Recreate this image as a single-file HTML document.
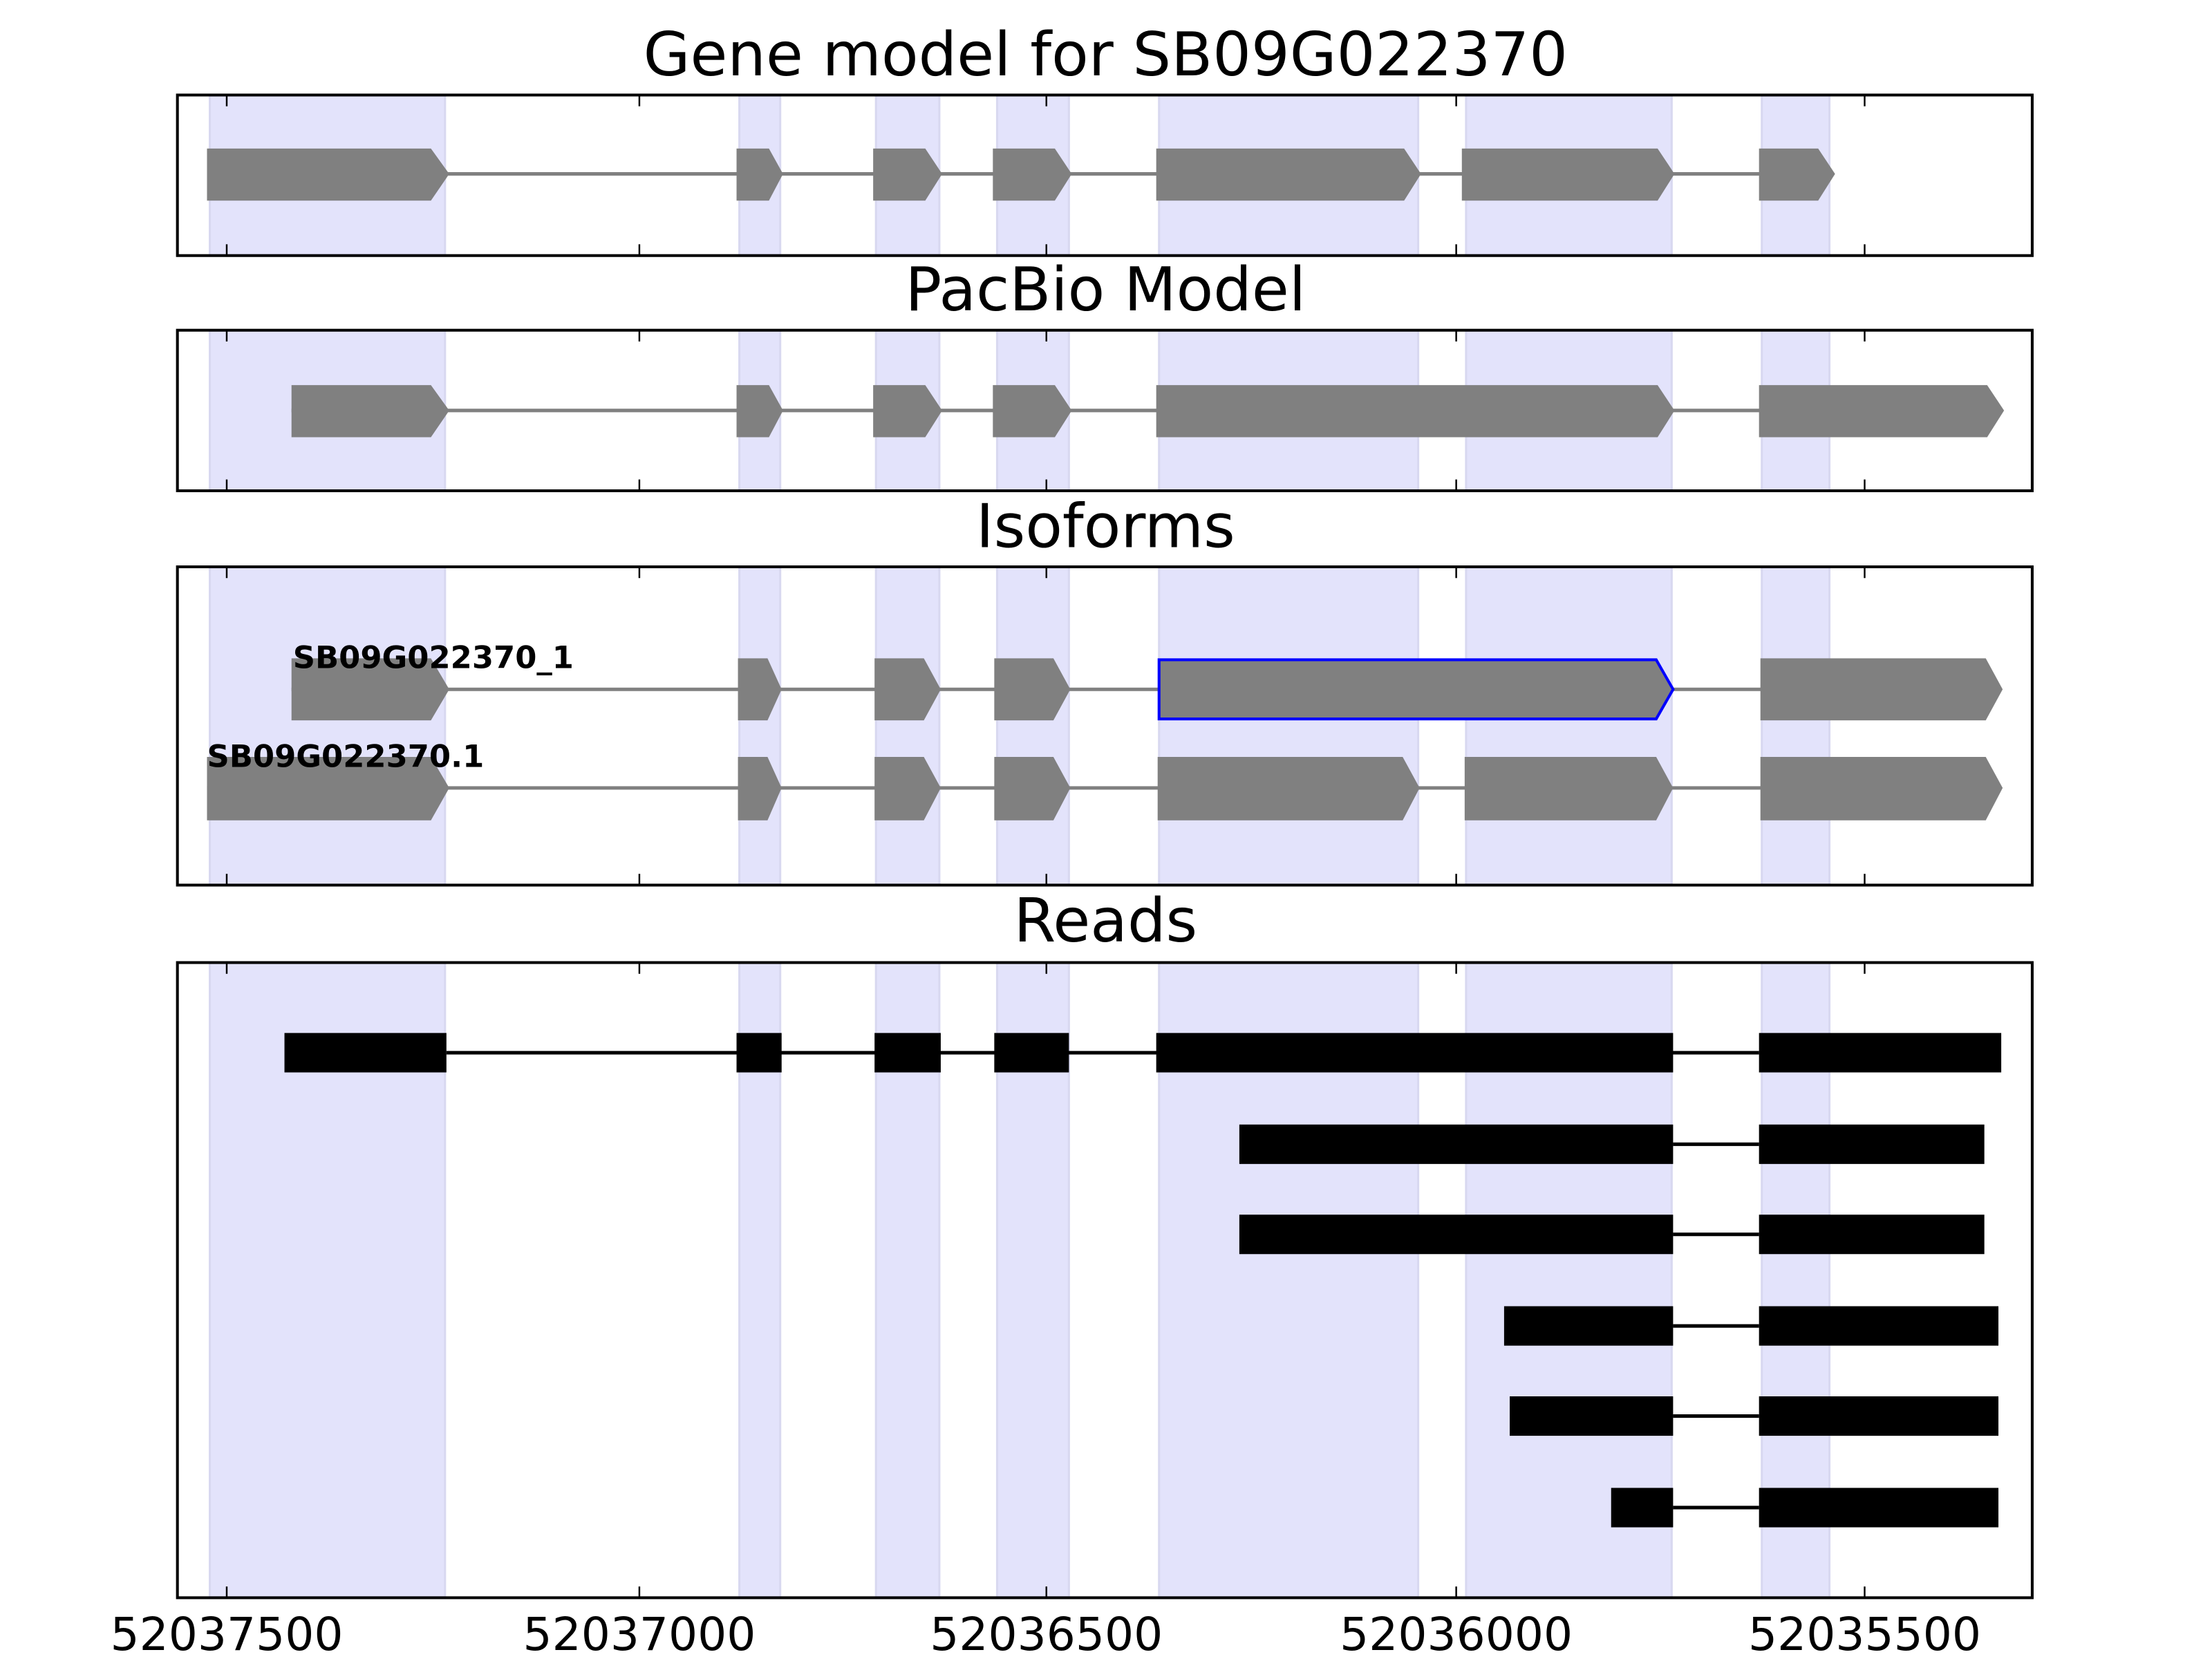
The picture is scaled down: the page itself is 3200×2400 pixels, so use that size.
<!DOCTYPE html>
<html><head><meta charset="utf-8"><style>html,body{margin:0;padding:0;background:#fff}svg{display:block}</style></head>
<body>
<svg xmlns="http://www.w3.org/2000/svg" width="3200" height="2400" viewBox="0 0 3200 2400" font-family="DejaVu Sans, Liberation Sans, sans-serif">
<g transform="matrix(2.0374,0,0,2.0374,2,3)">
<g font-size="43" text-anchor="middle" fill="#000">
<text x="784" y="52">Gene model for SB09G022370</text>
<text x="784" y="219">PacBio Model</text>
<text x="784" y="387">Isoforms</text>
<text x="784" y="667">Reads</text>
</g>
<g fill="#e3e3fb" stroke="#d8d8f0" stroke-width="1.5">
<rect x="148" y="66" width="167" height="114"/><rect x="524" y="66" width="29" height="114"/><rect x="621" y="66" width="45" height="114"/><rect x="707" y="66" width="51" height="114"/><rect x="822" y="66" width="184" height="114"/><rect x="1040" y="66" width="146" height="114"/><rect x="1250" y="66" width="48" height="114"/>
<rect x="148" y="233" width="167" height="114"/><rect x="524" y="233" width="29" height="114"/><rect x="621" y="233" width="45" height="114"/><rect x="707" y="233" width="51" height="114"/><rect x="822" y="233" width="184" height="114"/><rect x="1040" y="233" width="146" height="114"/><rect x="1250" y="233" width="48" height="114"/>
<rect x="148" y="401" width="167" height="226"/><rect x="524" y="401" width="29" height="226"/><rect x="621" y="401" width="45" height="226"/><rect x="707" y="401" width="51" height="226"/><rect x="822" y="401" width="184" height="226"/><rect x="1040" y="401" width="146" height="226"/><rect x="1250" y="401" width="48" height="226"/>
<rect x="148" y="682" width="167" height="451"/><rect x="524" y="682" width="29" height="451"/><rect x="621" y="682" width="45" height="451"/><rect x="707" y="682" width="51" height="451"/><rect x="822" y="682" width="184" height="451"/><rect x="1040" y="682" width="146" height="451"/><rect x="1250" y="682" width="48" height="451"/>
</g>
<g stroke="#808080" stroke-width="2.5"><line x1="300" y1="122" x2="1260" y2="122"/><line x1="206" y1="290" x2="1260" y2="290"/><line x1="206" y1="488" x2="1260" y2="488"/><line x1="146" y1="558" x2="1260" y2="558"/></g>
<g fill="#808080">
<polygon points="146,104 305,104 318,122 305,141 146,141"/>
<polygon points="522,104 545,104 555,122 545,141 522,141"/>
<polygon points="619,104 656,104 668,122 656,141 619,141"/>
<polygon points="704,104 748,104 760,122 748,141 704,141"/>
<polygon points="820,104 996,104 1008,122 996,141 820,141"/>
<polygon points="1037,104 1176,104 1188,122 1176,141 1037,141"/>
<polygon points="1248,104 1290,104 1302,122 1290,141 1248,141"/>
<polygon points="206,272 305,272 318,290 305,309 206,309"/>
<polygon points="522,272 545,272 555,290 545,309 522,309"/>
<polygon points="619,272 656,272 668,290 656,309 619,309"/>
<polygon points="704,272 748,272 760,290 748,309 704,309"/>
<polygon points="820,272 1176,272 1188,290 1176,309 820,309"/>
<polygon points="1248,272 1410,272 1422,290 1410,309 1248,309"/>
<polygon points="206,466 305,466 318,488 305,510 206,510"/>
<polygon points="523,466 544,466 554,488 544,510 523,510"/>
<polygon points="620,466 655,466 667,488 655,510 620,510"/>
<polygon points="705,466 747,466 759,488 747,510 705,510"/>
<polygon points="822,467 1175,467 1187,488 1175,509 822,509" stroke="#0000ff" stroke-width="2"/>
<polygon points="1249,466 1409,466 1421,488 1409,510 1249,510"/>
<polygon points="146,536 305,536 318,558 305,581 146,581"/>
<polygon points="523,536 544,536 554,558 544,581 523,581"/>
<polygon points="620,536 655,536 667,558 655,581 620,581"/>
<polygon points="705,536 747,536 759,558 747,581 705,581"/>
<polygon points="821,536 995,536 1007,558 995,581 821,581"/>
<polygon points="1039,536 1175,536 1187,558 1175,581 1039,581"/>
<polygon points="1249,536 1409,536 1421,558 1409,581 1249,581"/>
</g>
<g font-size="22" font-weight="bold" fill="#000">
<text x="207" y="473">SB09G022370_1</text>
<text x="146" y="543">SB09G022370.1</text>
</g>
<g stroke="#000" stroke-width="2.5">
<line x1="316" y1="746" x2="1248" y2="746"/>
<line x1="1187" y1="811" x2="1248" y2="811"/>
<line x1="1187" y1="875" x2="1248" y2="875"/>
<line x1="1187" y1="940" x2="1248" y2="940"/>
<line x1="1187" y1="1004" x2="1248" y2="1004"/>
<line x1="1187" y1="1069" x2="1248" y2="1069"/>
</g>
<g fill="#000">
<rect x="201" y="732" width="115" height="28"/><rect x="522" y="732" width="32" height="28"/><rect x="620" y="732" width="47" height="28"/><rect x="705" y="732" width="53" height="28"/><rect x="820" y="732" width="367" height="28"/><rect x="1248" y="732" width="172" height="28"/>
<rect x="879" y="797" width="308" height="28"/><rect x="1248" y="797" width="160" height="28"/>
<rect x="879" y="861" width="308" height="28"/><rect x="1248" y="861" width="160" height="28"/>
<rect x="1067" y="926" width="120" height="28"/><rect x="1248" y="926" width="170" height="28"/>
<rect x="1071" y="990" width="116" height="28"/><rect x="1248" y="990" width="170" height="28"/>
<rect x="1143" y="1055" width="44" height="28"/><rect x="1248" y="1055" width="170" height="28"/>
</g>
<g fill="none" stroke="#000" stroke-width="2">
<rect x="125" y="66" width="1317" height="114"/>
<rect x="125" y="233" width="1317" height="114"/>
<rect x="125" y="401" width="1317" height="226"/>
<rect x="125" y="682" width="1317" height="451"/>
</g>
<g stroke="#000" stroke-width="1.2">
<path d="M160 66v8M453 66v8M742 66v8M1033 66v8M1323 66v8M160 180v-8M453 180v-8M742 180v-8M1033 180v-8M1323 180v-8"/>
<path d="M160 233v8M453 233v8M742 233v8M1033 233v8M1323 233v8M160 347v-8M453 347v-8M742 347v-8M1033 347v-8M1323 347v-8"/>
<path d="M160 401v8M453 401v8M742 401v8M1033 401v8M1323 401v8M160 627v-8M453 627v-8M742 627v-8M1033 627v-8M1323 627v-8"/>
<path d="M160 682v8M453 682v8M742 682v8M1033 682v8M1323 682v8M160 1133v-8M453 1133v-8M742 1133v-8M1033 1133v-8M1323 1133v-8"/>
</g>
<g font-size="32.5" text-anchor="middle" fill="#000">
<text x="160" y="1170">52037500</text>
<text x="453" y="1170">52037000</text>
<text x="742" y="1170">52036500</text>
<text x="1033" y="1170">52036000</text>
<text x="1323" y="1170">52035500</text>
</g>
</g>
</svg>
</body></html>
